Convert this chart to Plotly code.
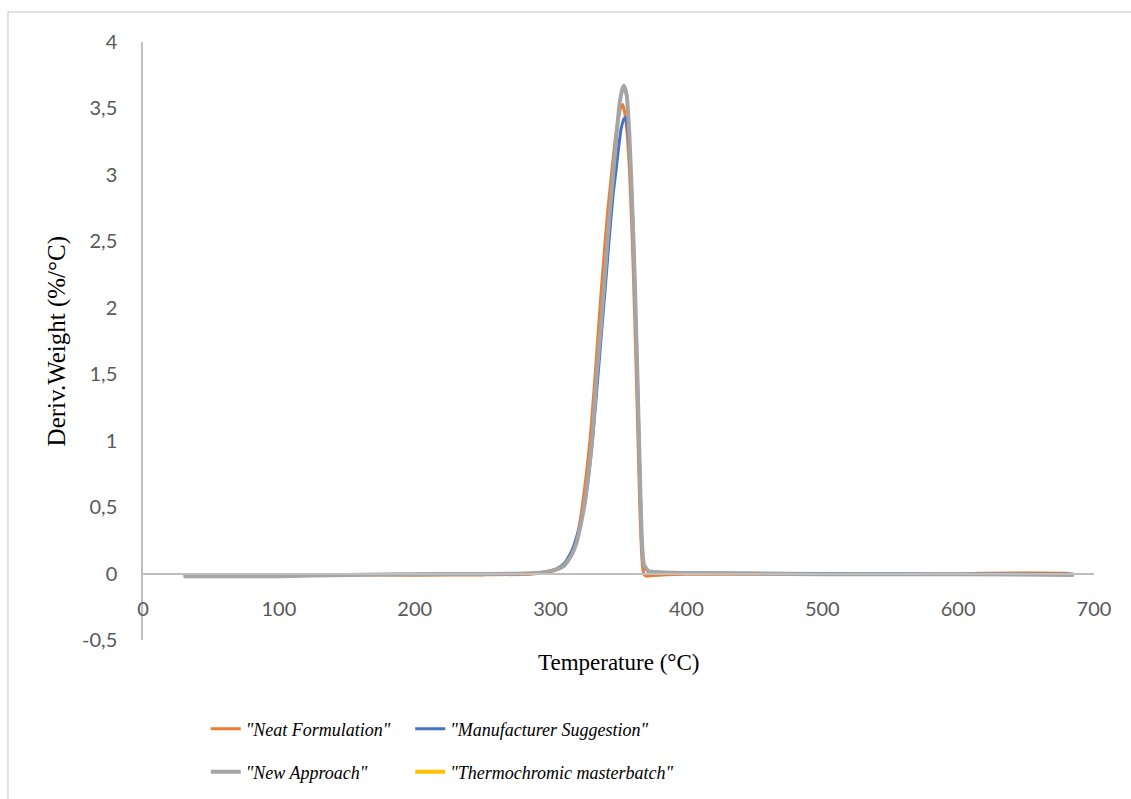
import plotly.graph_objects as go

# ---------------- data ----------------
neat_T = [30, 100, 150, 200, 250, 285, 295, 300, 305, 310, 313, 316, 320, 323, 326, 329, 331, 333, 336,
          338, 340, 342, 345, 348, 351, 353, 354, 356, 358, 360, 362, 364, 365, 366, 367, 368, 369, 371,
          375, 400, 500, 600, 615, 640, 660, 678, 685]
neat_v = [-0.015, -0.015, -0.01, -0.012, -0.01, -0.005, 0.005, 0.015, 0.03, 0.06, 0.1, 0.16, 0.3, 0.48,
          0.72, 1.0, 1.25, 1.52, 1.95, 2.22, 2.48, 2.72, 3.02, 3.3, 3.48, 3.53, 3.5, 3.35, 3.05, 2.55, 1.9,
          1.15, 0.75, 0.4, 0.15, 0.03, -0.01, -0.02, -0.015, -0.005, -0.008, -0.005, 0.003, 0.005, 0.005,
          0.003, -0.005]

manu_T = [30, 100, 150, 200, 250, 285, 295, 300, 305, 310, 313, 316, 319, 322, 325, 328, 331, 334, 337,
          340, 343, 346, 348, 350, 352, 354, 355, 356, 358, 360, 362, 364, 365, 366, 367, 368, 369, 372,
          380, 400, 500, 600, 685]
manu_v = [-0.015, -0.012, -0.008, -0.005, -0.003, 0.0, 0.01, 0.02, 0.04, 0.075, 0.12, 0.18, 0.27, 0.38,
          0.52, 0.74, 1.02, 1.38, 1.75, 2.12, 2.5, 2.85, 3.02, 3.2, 3.35, 3.42, 3.43, 3.4, 3.2, 2.8, 2.2,
          1.45, 1.05, 0.65, 0.3, 0.12, 0.05, 0.015, 0.01, 0.005, 0.0, -0.003, -0.005]

new_T = [30, 100, 150, 200, 250, 280, 295, 300, 305, 310, 313, 316, 319, 322, 325, 328, 331, 334, 337,
         340, 343, 346, 349, 351, 353, 354, 356, 358, 360, 362, 364, 365, 366, 367, 368, 369, 372, 380,
         400, 450, 500, 600, 685]
new_v = [-0.02, -0.02, -0.01, -0.005, -0.003, 0.0, 0.01, 0.02, 0.035, 0.06, 0.1, 0.15, 0.23, 0.36, 0.52,
         0.75, 1.05, 1.5, 1.85, 2.25, 2.65, 3.0, 3.35, 3.55, 3.65, 3.67, 3.6, 3.3, 2.8, 2.2, 1.45, 1.05,
         0.65, 0.3, 0.12, 0.06, 0.02, 0.01, 0.005, 0.0, -0.005, -0.005, -0.01]

# no visible data for this series in the chart (legend entry only)
thermo_T = [None]
thermo_v = [None]

series_names = ['"Neat Formulation"', '"Manufacturer Suggestion"', '"New Approach"',
                '"Thermochromic masterbatch"']
series_colors = ["#ED7D31", "#4472C4", "#A5A5A5", "#FFC000"]

x_tick_vals = [0, 100, 200, 300, 400, 500, 600, 700]
x_tick_text = ["0", "100", "200", "300", "400", "500", "600", "700"]
y_tick_vals = [-0.5, 0, 0.5, 1, 1.5, 2, 2.5, 3, 3.5, 4]
y_tick_text = ["-0,5", "0", "0,5", "1", "1,5", "2", "2,5", "3", "3,5", "4"]

# ---------------- figure ----------------
fig = go.Figure()
data = [(neat_T, neat_v, 3, "legend"), (manu_T, manu_v, 3, "legend2"),
        (new_T, new_v, 4, "legend3"), (thermo_T, thermo_v, 4, "legend4")]
for (xs, ys, w, lg), name, col in zip(data, series_names, series_colors):
    fig.add_trace(go.Scatter(x=xs, y=ys, mode="lines", name=name, legend=lg,
                             line=dict(color=col, width=w, shape="spline", smoothing=0.5)))

axis_col = "#BFBFBF"
tick_font = dict(family="Lato", size=20, color="#595959")
legend_font = dict(family="Liberation Serif", size=18, color="black", style="italic")


def leg(x, y):
    return dict(orientation="h", x=x, y=y, xanchor="left", yanchor="middle",
                font=legend_font, bgcolor="rgba(0,0,0,0)")


col1, col2 = 0.066, 0.281
row1, row2 = -0.1488, -0.2207

fig.update_layout(
    width=1131, height=799,
    margin=dict(l=143, r=37, t=42, b=159, autoexpand=False),
    paper_bgcolor="white", plot_bgcolor="white",
    showlegend=True,
    xaxis=dict(range=[0, 700], tickvals=x_tick_vals, ticktext=x_tick_text,
               anchor="free", position=0.5 / 4.5,
               showline=True, linecolor=axis_col, linewidth=1.5,
               showgrid=False, zeroline=False, ticks="", tickfont=tick_font,
               ticklabelstandoff=18),
    yaxis=dict(range=[-0.5, 4], tickvals=y_tick_vals, ticktext=y_tick_text,
               showline=True, linecolor=axis_col, linewidth=1.5,
               showgrid=False, zeroline=False, ticks="", tickfont=tick_font,
               ticklabelstandoff=20),
    legend=leg(col1, row1),
    legend2=leg(col2, row1),
    legend3=leg(col1, row2),
    legend4=leg(col2, row2),
    annotations=[
        dict(text="Temperature (°C)", xref="paper", yref="paper", x=0.5, y=-0.037,
             xanchor="center", yanchor="middle", showarrow=False,
             font=dict(family="Liberation Serif", size=23, color="black")),
        dict(text="Deriv.Weight (%/°C)", xref="paper", yref="paper", x=-0.09, y=0.5,
             xanchor="center", yanchor="middle", showarrow=False, textangle=-90,
             font=dict(family="Liberation Serif", size=25, color="black")),
    ],
    shapes=[
        dict(type="rect", xref="paper", yref="paper", x0=-0.142, x1=1.06, y0=-0.3, y1=1.05,
             line=dict(color="#D9D9D9", width=1.5), layer="below"),
    ],
)

fig.write_html("out.html")
